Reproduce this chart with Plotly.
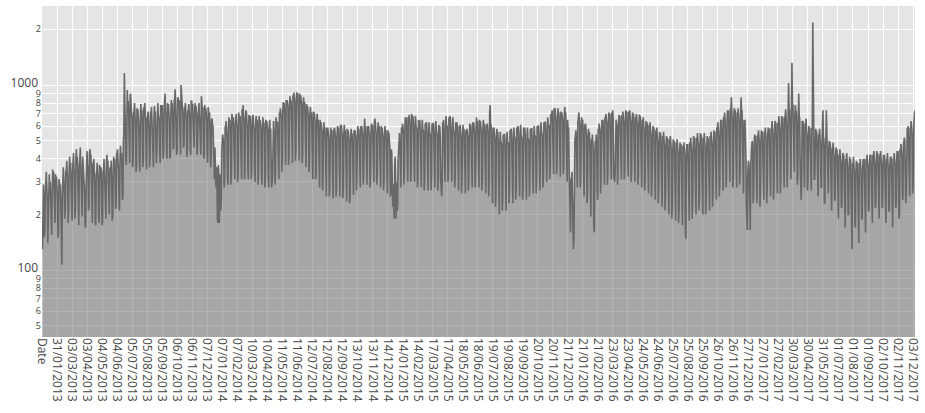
import pandas as pd
import plotly.graph_objects as go

# daily values (one week per row)
v2013 = [
130,250,290,230,150,170,270,
300,340,280,240,140,180,290,
330,270,300,240,170,155,260,
350,300,340,260,190,180,330,
280,320,270,240,150,160,310,
300,270,290,220,120,107,250,
310,360,310,270,190,210,340,
340,390,330,290,180,210,350,
410,340,380,300,220,185,340,
370,430,350,330,190,220,400,
450,380,410,310,200,175,370,
390,460,360,300,210,195,410,
350,330,320,260,175,170,280,
380,440,370,350,210,220,430,
450,410,420,320,200,180,380,
360,400,340,280,180,175,330,
340,380,330,300,195,180,370,
330,310,360,270,175,185,340,
350,400,330,310,200,190,380,
420,370,390,300,205,200,350,
360,350,390,280,185,195,330,
410,370,400,330,215,225,420,
430,450,380,350,230,210,390,
470,410,430,350,240,250,500,
540,1160,720,620,400,370,820,
940,800,820,680,430,380,870,
900,760,720,650,360,390,700,
720,800,680,600,340,360,750,
680,740,650,580,380,340,640,
790,690,730,580,360,390,760,
700,800,680,640,410,350,660,
660,720,620,560,360,400,720,
640,760,620,550,420,360,630,
770,690,720,580,380,430,750,
800,700,680,640,430,380,780,
740,720,780,620,400,440,730,
820,900,720,680,450,400,800,
720,790,690,620,400,420,700,
830,760,800,640,450,460,820,
850,950,760,700,420,450,840,
860,780,830,680,470,420,1000,
900,790,820,670,460,470,760,
740,800,710,630,410,440,720,
730,790,690,660,450,420,820,
820,740,790,640,470,460,730,
800,710,770,620,420,450,700,
720,800,690,650,450,420,870,
820,730,760,620,400,430,780,
700,750,670,640,420,380,760,
730,660,710,580,360,390,650,
660,600,600,480,350,310,460,
370,280,360,350,190,180,370,
330,
]

v2014 = [
180,300,330,210,230,440,490,
540,510,490,280,310,600,580,
640,570,520,310,290,590,670,
620,650,540,290,340,700,640,
610,670,540,340,310,620,690,
700,610,590,300,350,710,660,
640,680,560,350,310,740,650,
780,630,610,310,360,660,730,
710,630,580,340,310,690,640,
620,680,550,310,350,620,690,
670,600,580,340,300,610,680,
600,650,530,290,340,680,610,
650,580,570,330,290,600,670,
590,630,520,280,330,650,600,
640,570,550,320,280,580,650,
560,580,390,280,300,330,620,
640,580,560,290,340,670,620,
630,630,520,340,310,710,670,
750,670,660,340,390,730,810,
750,800,680,400,370,830,790,
830,760,740,370,420,790,870,
800,830,700,420,380,880,830,
910,820,780,390,440,840,915,
870,900,760,440,390,900,850,
880,790,760,380,420,790,860,
770,810,680,400,360,790,740,
770,690,670,340,370,690,760,
670,710,600,360,310,720,670,
710,630,620,310,340,630,700,
610,650,540,330,280,650,600,
630,560,550,270,300,550,630,
540,590,480,300,250,590,540,
590,510,500,250,280,510,590,
520,570,460,290,245,580,530,
590,520,510,250,280,530,600,
540,590,480,290,250,610,560,
610,530,520,245,280,540,610,
530,570,460,270,235,580,530,
570,500,490,230,250,510,580,
500,550,450,280,255,570,520,
570,500,500,270,320,530,600,
530,580,470,320,280,600,550,
600,530,520,290,320,550,660,
550,600,480,330,290,600,550,
600,530,520,280,330,550,620,
560,610,490,330,300,630,660,
630,550,530,290,330,560,630,
550,600,480,320,280,600,550,
590,520,510,270,310,530,600,
520,570,460,300,260,570,520,
550,470,460,250,260,450,430,
300,220,290,200,190,370,410,
300,
]

v2015 = [
190,300,210,220,390,460,470,
550,460,310,280,590,550,620,
570,560,290,340,590,670,600,
670,540,340,300,670,620,690,
620,590,300,350,700,630,680,
670,540,330,300,610,680,600,
590,570,280,320,650,600,640,
640,520,310,280,570,650,570,
570,550,270,310,620,580,630,
620,500,300,270,550,630,560,
550,530,270,320,620,570,620,
620,500,320,280,570,640,570,
550,530,270,310,610,560,600,
530,310,260,250,300,630,580,
650,520,330,300,600,680,610,
600,570,300,340,670,630,680,
650,520,330,300,590,670,590,
570,540,280,320,630,580,630,
610,480,310,270,600,560,610,
530,510,260,310,530,610,540,
580,460,300,260,570,530,580,
530,510,270,310,540,620,550,
610,490,320,280,630,580,630,
570,540,280,330,590,670,590,
640,510,320,280,650,600,640,
570,540,270,310,570,650,570,
620,490,300,260,610,570,620,
570,540,250,300,700,780,620,
610,480,280,230,590,540,590,
520,500,220,250,510,580,510,
560,440,240,200,490,560,490,
490,470,210,240,540,490,540,
540,430,260,210,490,560,490,
490,480,230,270,570,530,580,
570,450,270,230,520,590,520,
520,500,240,280,590,550,600,
590,470,280,250,540,610,540,
520,500,240,280,590,540,590,
570,450,280,240,520,590,520,
510,490,250,290,580,530,580,
580,460,300,260,530,600,530,
530,510,260,310,600,550,600,
600,480,310,270,550,630,560,
550,530,280,320,630,580,630,
630,500,330,300,590,670,600,
610,580,310,360,690,690,700,
730,580,370,330,750,710,750,
670,620,330,360,670,750,670,
710,570,360,320,720,670,710,
660,620,330,360,670,760,690,
710,560,350,300,650,570,590,
370,260,180,160,310,310,340,
240,
]

v2016 = [
140,130,150,410,510,530,570,
510,290,280,630,650,710,670,
610,280,320,590,670,600,650,
510,300,250,610,570,620,540,
530,230,260,510,580,510,560,
430,240,195,510,470,540,470,
450,170,160,400,500,480,540,
460,270,240,580,550,620,550,
550,260,310,570,650,600,650,
520,320,290,670,630,700,630,
600,290,340,630,710,660,700,
550,340,310,710,670,730,650,
320,300,300,340,610,650,620,
590,290,340,610,690,640,680,
540,340,310,690,650,720,650,
610,310,350,650,730,680,720,
560,350,320,720,690,730,670,
610,300,350,630,710,660,700,
530,330,300,670,630,700,620,
590,290,330,610,690,680,670,
510,320,280,650,600,670,590,
550,270,310,570,640,590,630,
470,300,260,610,560,630,550,
510,250,290,530,600,550,590,
440,280,240,570,520,590,510,
480,230,270,490,560,510,550,
410,260,220,530,490,560,480,
460,210,250,460,530,480,520,
390,240,200,510,460,530,450,
440,190,230,440,510,460,500,
370,220,185,490,440,510,430,
420,180,210,420,490,440,480,
360,210,175,470,420,490,410,
410,160,148,400,480,430,480,
360,220,185,490,450,520,440,
430,190,230,450,530,480,520,
380,240,200,520,480,550,470,
450,210,240,470,550,500,540,
390,240,200,520,480,550,470,
440,200,240,450,530,480,520,
390,250,210,530,490,560,480,
460,220,260,490,570,520,560,
420,270,240,590,550,630,550,
510,250,290,570,650,610,650,
480,300,270,670,630,710,630,
570,280,320,650,730,690,730,
530,330,300,750,730,860,730,
610,280,330,670,750,710,730,
530,320,280,710,670,750,670,
610,290,340,670,860,710,730,
510,310,260,650,610,650,550,
410,220,180,165,340,390,380,
330,170,
]

v2017 = [
165,370,460,470,500,420,230,
260,480,540,510,530,420,260,
230,540,520,570,510,470,220,
270,510,570,540,560,440,270,
240,560,540,590,530,490,230,
280,530,590,560,580,460,280,
250,580,580,640,560,510,240,
290,560,640,620,620,480,290,
260,620,620,680,600,540,260,
310,600,680,660,670,520,310,
280,660,680,740,660,580,280,
340,680,1025,740,740,580,340,
310,780,1320,800,780,600,350,
340,680,780,720,720,560,290,
320,640,900,680,660,380,280,
240,300,640,620,640,500,310,
280,620,600,660,580,520,270,
300,520,600,580,580,460,300,
270,580,580,2180,720,480,310,
310,520,580,560,560,440,250,
250,540,520,580,500,460,280,
280,490,550,730,500,450,230,
230,520,500,730,480,440,260,
260,440,500,470,490,380,210,
210,460,440,490,430,400,240,
240,400,460,430,450,350,190,
190,420,400,450,390,370,220,
220,370,430,400,420,320,170,
170,400,380,430,370,350,200,
200,350,410,380,400,300,150,
130,380,360,410,350,330,180,
170,340,390,360,380,280,145,
140,380,350,400,350,330,190,
190,350,400,370,400,300,160,
160,400,370,420,370,350,210,
210,370,420,390,420,320,180,
180,420,390,440,390,360,220,
220,380,440,400,430,330,190,
190,420,390,440,380,360,220,
220,370,420,390,420,320,180,
180,400,380,430,370,350,210,
210,360,410,380,410,310,170,
170,400,380,430,380,360,220,
220,380,440,410,440,330,190,
200,450,430,480,430,400,250,
240,460,480,520,500,400,230,
270,500,580,580,600,440,280,
250,580,580,640,580,520,260,
280,580,700,710,730,
]

dates = pd.date_range(
    "2013-01-01",
    periods=len(v2013) + len(v2014) + len(v2015) + len(v2016) + len(v2017),
    freq="D",
)
categories = ["Date"] + [d.strftime("%d/%m/%Y") for d in dates]
values = [None] + v2013 + v2014 + v2015 + v2016 + v2017
tick_labels = categories[::31]

fig = go.Figure(
    go.Scatter(
        x=categories,
        y=values,
        mode="lines",
        line=dict(color="#686868", width=1.6),
        fill="tozeroy",
        fillcolor="rgba(104,104,104,0.5)",
        hoverinfo="x+y",
    )
)

fig.update_layout(
    width=925,
    height=413,
    margin=dict(l=42, r=3, t=6, b=76),
    paper_bgcolor="white",
    plot_bgcolor="#e5e5e5",
    showlegend=False,
    font=dict(family="Open Sans", color="#444", size=12),
)
fig.update_xaxes(
    type="category",
    range=[0, len(categories) - 1],
    tickmode="array",
    tickvals=tick_labels,
    ticktext=tick_labels,
    tickangle=90,
    gridcolor="white",
    gridwidth=1,
    showline=False,
    zeroline=False,
    ticks="",
)
fig.update_yaxes(
    type="log",
    range=[1.6395, 3.427],
    dtick="D1",
    gridcolor="white",
    gridwidth=1,
    showline=False,
    zeroline=False,
    ticks="",
)

fig.write_html(
    "out.html",
    config={"displayModeBar": False},
    post_script="document.body.style.margin='0';document.body.style.overflow='hidden';",
)
